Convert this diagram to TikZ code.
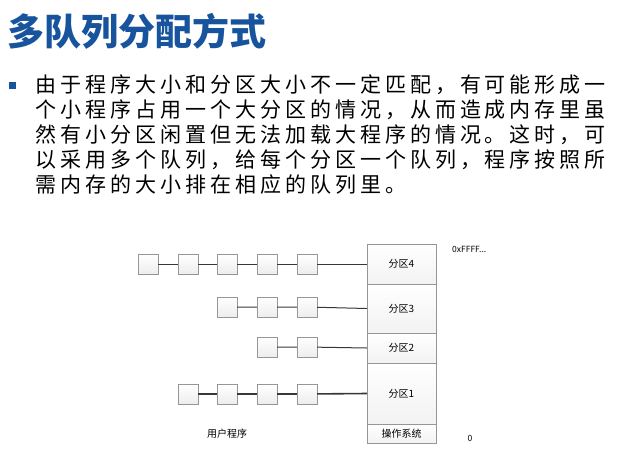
\documentclass[tikz,border=0pt]{standalone}
\usepackage{fontspec}
\setmainfont{Noto Sans CJK SC}
\newfontfamily\bodyfont[LetterSpace=19]{Noto Sans CJK SC}
\definecolor{titleblue}{RGB}{24,84,158}
\definecolor{boxline}{RGB}{150,150,150}
\definecolor{wire}{RGB}{55,55,55}
\begin{document}
\begin{tikzpicture}[x=1pt,y=-1pt,
  qbox/.style={draw=boxline,top color=white,bottom color=gray!14,minimum size=20pt,inner sep=0pt},
  part/.style={draw=boxline,top color=white,bottom color=gray!10,minimum width=69pt,inner sep=0pt,font=\fontsize{10}{10}\selectfont},
  conn/.style={draw=wire,line width=1pt},
  line/.style={anchor=west,inner sep=0pt,font=\bodyfont\fontsize{21}{21}\selectfont}]
\useasboundingbox (0,0) rectangle (635,464);
\node[anchor=west,inner sep=0pt,text=titleblue,font=\fontsize{37}{37}\selectfont\bfseries] (title) at (7,31) {多队列分配方式};
\node[fill=titleblue,minimum size=7pt,inner sep=0pt] (bullet) at (12.5,85) {};
\node[line] (l1) at (35,85) {由于程序大小和分区大小不一定匹配，有可能形成一};
\node[line] (l2) at (35,110) {个小程序占用一个大分区的情况，从而造成内存里虽};
\node[line] (l3) at (35,135) {然有小分区闲置但无法加载大程序的情况。这时，可};
\node[line] (l4) at (35,160) {以采用多个队列，给每个分区一个队列，程序按照所};
\node[line] (l5) at (35,185) {需内存的大小排在相应的队列里。};
% memory
\node[part,minimum height=40pt] (p4) at (401.5,264) {分区4};
\node[part,minimum height=49pt] (p3) at (401.5,308.5) {分区3};
\node[part,minimum height=30pt] (p2) at (401.5,348) {分区2};
\node[part,minimum height=61pt] (p1) at (401.5,393.5) {分区1};
\node[part,minimum height=19pt] (os) at (401.5,433.5) {操作系统};
\node[anchor=west,inner sep=0pt,font=\fontsize{8.5}{8.5}\selectfont] (top) at (452,249) {0xFFFF...};
\node[inner sep=0pt,font=\fontsize{8.5}{8.5}\selectfont] (zero) at (470,438) {0};
\node[inner sep=0pt,font=\fontsize{10}{10}\selectfont] (user) at (227,434) {用户程序};
% queues
\node[qbox] (a1) at (148,264) {};
\node[qbox] (a2) at (188,264) {};
\node[qbox] (a3) at (227,264) {};
\node[qbox] (a4) at (267,264) {};
\node[qbox] (a5) at (307,264) {};
\node[qbox] (b1) at (227,307) {};
\node[qbox] (b2) at (267,307) {};
\node[qbox] (b3) at (307,307) {};
\node[qbox] (c1) at (267,347) {};
\node[qbox] (c2) at (307,347) {};
\node[qbox] (d1) at (188,394) {};
\node[qbox] (d2) at (227,394) {};
\node[qbox] (d3) at (267,394) {};
\node[qbox] (d4) at (307,394) {};
\draw[conn] (a1) -- (a2) (a2) -- (a3) (a3) -- (a4) (a4) -- (a5) (a5) -- (p4.west);
\draw[conn] (b1) -- (b2) (b2) -- (b3) (b3) -- (p3.west);
\draw[conn] (c1) -- (c2) (c2) -- (p2.west);
\draw[conn,line width=1.6pt] (d1) -- (d2) (d2) -- (d3) (d3) -- (d4) (d4) -- (p1.west);
\end{tikzpicture}
\end{document}
